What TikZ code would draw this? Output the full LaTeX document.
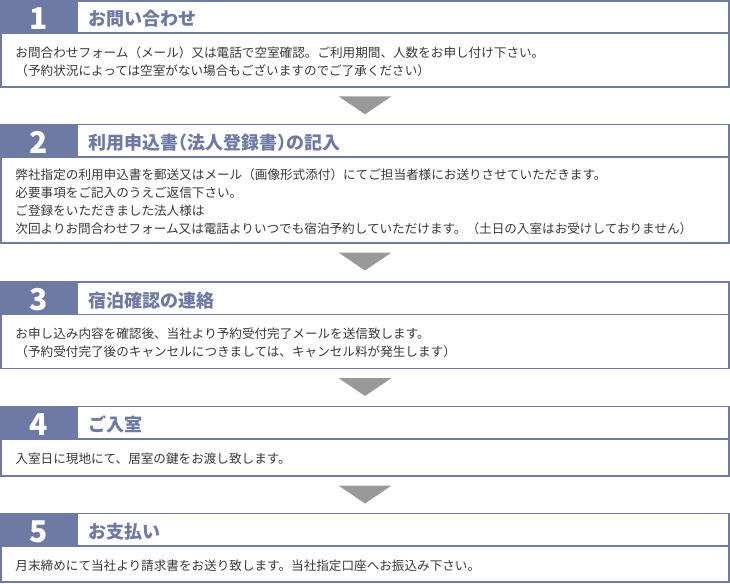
\documentclass[tikz,border=0pt]{standalone}
\usepackage{fontspec}
\setmainfont{Noto Sans CJK JP}
\newfontfamily\titlefont{Noto Sans CJK JP}[RawFeature=+halt]
\usepackage{xcolor}
\usepackage{tikz}
\usetikzlibrary{positioning,calc}

\definecolor{slate}{HTML}{6C7AA4}
\definecolor{notegray}{HTML}{383838}
\definecolor{arrowgray}{HTML}{999999}

\tikzset{
    headbar/.style={draw=slate, fill=white, line width=1.6pt, minimum width=728.4pt, minimum height=32.5pt, inner sep=0pt, outer sep=0pt, anchor=north west},
    bodybox/.style={draw=slate, line width=1.6pt, minimum width=728.4pt, inner sep=0pt, outer sep=0pt, anchor=north west},
    numtext/.style={text=white, inner sep=0pt, font=\fontsize{30}{30}\selectfont\bfseries},
    titletext/.style={text=slate, inner sep=0pt, anchor=west, font=\titlefont\fontsize{18}{18}\selectfont\bfseries},
    stepnote/.style={text=notegray, inner sep=0pt, anchor=west, align=left, font=\fontsize{12.6}{18}\selectfont}
}

\begin{document}
\begin{tikzpicture}[x=1pt, y=-1pt]
    \useasboundingbox (0,0) rectangle (730,583);

    % step 1
    \node[headbar] (head1) at (0.8,0.8) {};
    \fill[slate] (head1.north west) rectangle ($(head1.south west)+(77,0)$);
    \node[numtext] (num1) at ($(head1.west)+(38,1.8)$) {1};
    \node[titletext] (title1) at ($(head1.west)+(87,2)$) {お問い合わせ};
    \node[bodybox, minimum height=53.5pt] (body1) at (head1.south west) {};
    \node[stepnote] (note1) at ($(body1.west)+(14.5,1.5)$) {お問合わせフォーム（メール）又は電話で空室確認。ご利用期間、人数をお申し付け下さい。\\（予約状況によっては空室がない場合もございますのでご了承ください）};
    \fill[arrowgray] ($(body1.south)+(-26.5,9.5)$) -- ($(body1.south)+(26.5,9.5)$) -- ($(body1.south)+(0,27.5)$) -- cycle;

    % step 2
    \node[headbar] (head2) at (0.8,124.5) {};
    \fill[slate] (head2.north west) rectangle ($(head2.south west)+(77,0)$);
    \node[numtext] (num2) at ($(head2.west)+(38,1.8)$) {2};
    \node[titletext] (title2) at ($(head2.west)+(87,2)$) {利用申込書（法人登録書）の記入};
    \node[bodybox, minimum height=86pt] (body2) at (head2.south west) {};
    \node[stepnote] (note2) at ($(body2.west)+(14.5,1.5)$) {弊社指定の利用申込書を郵送又はメール（画像形式添付）にてご担当者様にお送りさせていただきます。\\必要事項をご記入のうえご返信下さい。\\ご登録をいただきました法人様は\\次回よりお問合わせフォーム又は電話よりいつでも宿泊予約していただけます。（土日の入室はお受けしておりません）};
    \fill[arrowgray] ($(body2.south)+(-26.5,9.5)$) -- ($(body2.south)+(26.5,9.5)$) -- ($(body2.south)+(0,27.5)$) -- cycle;

    % step 3
    \node[headbar] (head3) at (0.8,282) {};
    \fill[slate] (head3.north west) rectangle ($(head3.south west)+(77,0)$);
    \node[numtext] (num3) at ($(head3.west)+(38,1.8)$) {3};
    \node[titletext] (title3) at ($(head3.west)+(87,2)$) {宿泊確認の連絡};
    \node[bodybox, minimum height=54pt] (body3) at (head3.south west) {};
    \node[stepnote] (note3) at ($(body3.west)+(14.5,1.5)$) {お申し込み内容を確認後、当社より予約受付完了メールを送信致します。\\（予約受付完了後のキャンセルにつきましては、キャンセル料が発生します）};
    \fill[arrowgray] ($(body3.south)+(-26.5,9.5)$) -- ($(body3.south)+(26.5,9.5)$) -- ($(body3.south)+(0,27.5)$) -- cycle;

    % step 4
    \node[headbar] (head4) at (0.8,406.5) {};
    \fill[slate] (head4.north west) rectangle ($(head4.south west)+(77,0)$);
    \node[numtext] (num4) at ($(head4.west)+(38,1.8)$) {4};
    \node[titletext] (title4) at ($(head4.west)+(87,2)$) {ご入室};
    \node[bodybox, minimum height=37pt] (body4) at (head4.south west) {};
    \node[stepnote] (note4) at ($(body4.west)+(14.5,1.5)$) {入室日に現地にて、居室の鍵をお渡し致します。};
    \fill[arrowgray] ($(body4.south)+(-26.5,9.5)$) -- ($(body4.south)+(26.5,9.5)$) -- ($(body4.south)+(0,27.5)$) -- cycle;

    % step 5
    \node[headbar] (head5) at (0.8,513.5) {};
    \fill[slate] (head5.north west) rectangle ($(head5.south west)+(77,0)$);
    \node[numtext] (num5) at ($(head5.west)+(38,1.8)$) {5};
    \node[titletext] (title5) at ($(head5.west)+(87,2)$) {お支払い};
    \node[bodybox, minimum height=36.2pt] (body5) at (head5.south west) {};
    \node[stepnote] (note5) at ($(body5.west)+(14.5,1.5)$) {月末締めにて当社より請求書をお送り致します。当社指定口座へお振込み下さい。};
\end{tikzpicture}
\end{document}
